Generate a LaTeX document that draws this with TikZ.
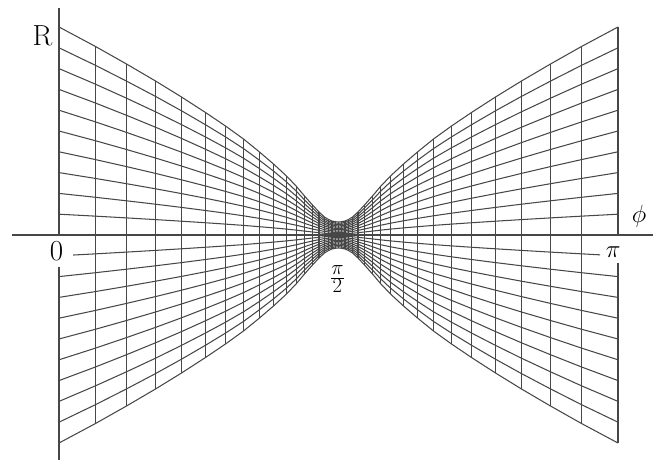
\documentclass[tikz,border=0pt]{standalone}
\begin{document}
\begin{tikzpicture}[x=1pt,y=-1pt,
  gridline/.style={line width=1.05pt, draw=black!72, line join=round},
  lbl/.style={font=\fontsize{29}{34}\selectfont, inner sep=0pt}]
\useasboundingbox (0,0) rectangle (663,462);
\def\cx{338.5}
\def\leftlist{279.5/208, 243/188.5, 212/171, 183/154, 157/138, 133/122.5, 113/109, 95/96, 79/83, 65/71, 52/59, 42/48.5, 34/39, 26/30, 19.5/23, 14/18, 10/15.5, 6.5/14, 3.2/13.3, 0/13}
\def\rightlist{3.2/13.3, 6.5/14, 10/15.5, 14/18, 19.5/23, 26/30, 34/39, 42/48.5, 52/59, 65/71, 79/83, 95/96, 113/109, 133/122.5, 157/138, 183/154, 212/171, 243/188.5, 279.5/208}
\def\innerlist{243/188.5, 212/171, 183/154, 157/138, 133/122.5, 113/109, 95/96, 79/83, 65/71, 52/59, 42/48.5, 34/39, 26/30, 19.5/23, 14/18, 10/15.5, 6.5/14, 3.2/13.3}
% vertical lines (constant phi)
\foreach \d/\h in \innerlist {
  \draw[gridline] ({\cx-\d}, {235-\h}) -- ({\cx-\d}, {235+\h});
  \draw[gridline] ({\cx+\d}, {235-\h}) -- ({\cx+\d}, {235+\h});
}
\draw[gridline] (\cx, 222) -- (\cx, 248);
% R axis (left edge) with gap for the label
\draw[gridline] (59,8) -- (59,235);
\draw[gridline] (59,266.5) -- (59,460);
% right edge with gap for the label
\draw[gridline] (618,27) -- (618,235);
\draw[gridline] (618,263) -- (618,443);
% lines of constant R
\foreach \k in {-10,...,-2,1,2,...,10} {
  \draw[gridline] ({\cx-279.5}, {235-(\k)*20.8})
    \foreach \d/\h in \leftlist { -- ({\cx-\d}, {235-(\k)*\h/10}) }
    \foreach \d/\h in \rightlist { -- ({\cx+\d}, {235-(\k)*\h/10}) };
}
\begin{scope}
  \clip (73,0) rectangle (600,462);
  \draw[gridline] ({\cx-279.5}, 255.8)
    \foreach \d/\h in \leftlist { -- ({\cx-\d}, {235+\h/10}) }
    \foreach \d/\h in \rightlist { -- ({\cx+\d}, {235+\h/10}) };
\end{scope}
% phi axis
\draw[gridline] (12,235) -- (653,235);
% labels
\node[lbl] (Rlab) at (42.5,35.5) {R};
\node[lbl] (philab) at (639,216) {$\phi$};
\node[lbl] (zero) at (56.5,251.5) {0};
\node[lbl] (pilab) at (613.3,252.5) {$\pi$};
\node[lbl] (halfpi) at (337.5,279) {$\frac{\pi}{2}$};
\end{tikzpicture}
\end{document}
